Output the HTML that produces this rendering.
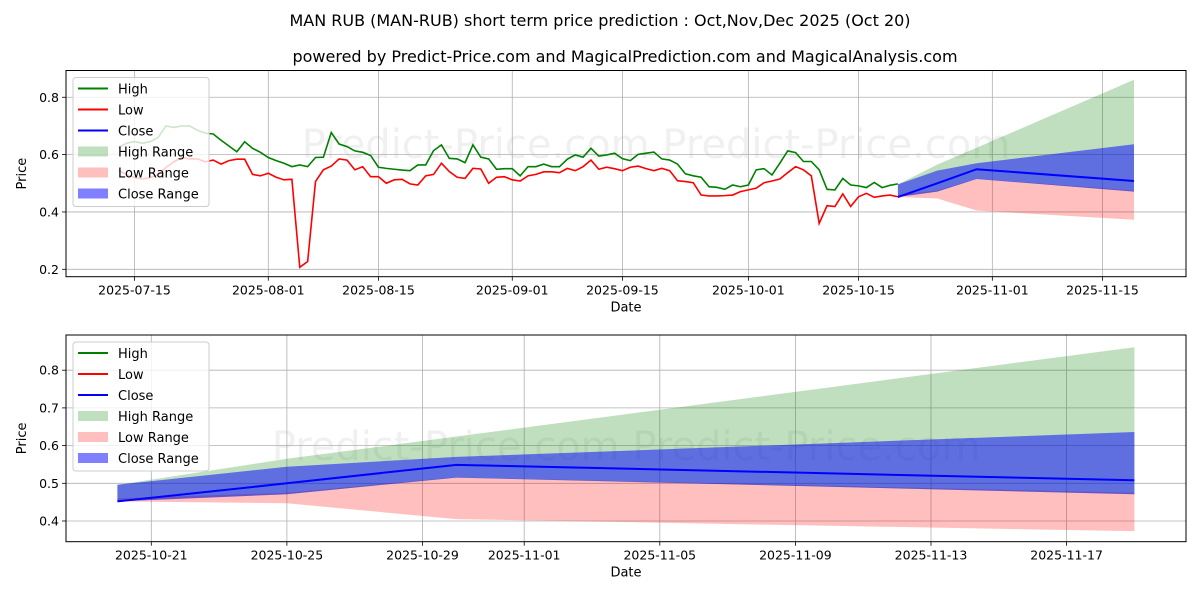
<!DOCTYPE html>
<html><head><meta charset="utf-8">
<style>
body{margin:0;background:#fff;}
svg{display:block;font-family:"DejaVu Sans","Liberation Sans",sans-serif;}
</style></head>
<body>
<svg id="chart" width="1200" height="600" viewBox="0 0 1200 600">
<rect width="1200" height="600" fill="#fff"/>
<text x="600" y="26" text-anchor="middle" font-size="16" fill="#000">MAN RUB (MAN-RUB) short term price prediction : Oct,Nov,Dec 2025 (Oct 20)</text>
<text x="625" y="62" text-anchor="middle" font-size="16" fill="#000">powered by Predict-Price.com and MagicalPrediction.com and MagicalAnalysis.com</text>
<g id="top"></g>
<g id="bot"></g>
</svg>
<script>
// ---- data ----
// history: days since 2025-07-15, starting at day -2 (2025-07-13)
const histStartDay = -2;
const highValues = [.625,.64,.645,.64,.645,.66,.70,.695,.70,.70,.685,.675,
.672,.65,.630,.610,.645,.622,.608,.59,.579,.570,.558,.564,.558,.590,.591,.677,.637,.628,.613,.608,.597,.556,.552,.549,.546,.544,.564,.564,.614,.634,.587,.585,.572,.634,.591,.585,.549,.551,.551,
.526,.558,.558,.567,.558,.558,.584,.599,.591,.622,.595,.599,.605,.586,.579,.601,.605,.609,.585,.581,.567,.533,.526,.521,.488,.486,.479,.494,.488,.494,.547,.551,.529,.570,.613,.607,.576,.576,.547,.479,.477,.517,.494,.491,.485,.503,.485,.493,.498];
const lowValues = [.545,.53,.52,.515,.52,.53,.555,.575,.59,.585,.585,.575,
.581,.567,.579,.584,.584,.531,.526,.535,.521,.512,.514,.207,.227,.506,.547,.560,.585,.581,.547,.558,.523,.523,.500,.512,.514,.498,.494,.526,.531,.570,.541,.521,.517,.552,.550,.500,.521,.523,.512,
.508,.526,.531,.540,.540,.537,.552,.544,.558,.581,.549,.556,.551,.544,.556,.560,.551,.544,.552,.544,.509,.506,.502,.459,.456,.456,.457,.459,.471,.477,.483,.502,.508,.515,.537,.558,.547,.526,.360,.422,.419,.463,.419,.453,.465,.451,.456,.459,.453];
// prediction: days since 2025-10-20
const predDays = [0,5,10,30];
const closePred = [.452,.50,.549,.508];
const closeUpper = [.496,.544,.570,.636];
const closeLower = [.452,.471,.515,.471];
const highUpper = [.496,.565,.624,.861];
const lowUpper = [.46,.475,.516,.475];
const lowLower = [.452,.447,.405,.373];
const topTickLabels = ["2025-07-15","2025-08-01","2025-08-15","2025-09-01","2025-09-15","2025-10-01","2025-10-15","2025-11-01","2025-11-15"];
const topTickDays = [0,17,31,48,62,78,92,109,123];
const botTickLabels = ["2025-10-21","2025-10-25","2025-10-29","2025-11-01","2025-11-05","2025-11-09","2025-11-13","2025-11-17"];
const botTickDays = [0,4,8,11,15,19,23,27];
const topYTicks = [0.2,0.4,0.6,0.8];
const botYTicks = [0.4,0.5,0.6,0.7,0.8];

const NS="http://www.w3.org/2000/svg";
function mk(parent,tag,attrs,text){const e=document.createElementNS(NS,tag);for(const k in attrs)e.setAttribute(k,attrs[k]);if(text!==undefined)e.textContent=text;parent.appendChild(e);return e;}

function panel(g,cfg){
  const {L,R,T,B,xs,ys,xTicksD,xTickL,yTicks,yFmt,predOff,showHist}=cfg;
  const wm=mk(g,'text',{x:(L+R)/2+cfg.wmx,y:cfg.wmy,'text-anchor':'middle','font-size':40,fill:'#000','fill-opacity':0.06});
  wm.textContent=cfg.wmText;
  
  
  xTicksD.forEach((d,i)=>{
    const x=xs(d);
    const gl=mk(g,'line',{x1:x,x2:x,y1:T,y2:B,stroke:'#b0b0b0','stroke-width':0.8});
    
    
    mk(g,'line',{x1:x,x2:x,y1:B,y2:B+4,stroke:'#000','stroke-width':0.8});
    const t=mk(g,'text',{x:x,y:B+18,'text-anchor':'middle','font-size':12.5,fill:'#000'},xTickL[i]);
    
    
  });
  yTicks.forEach(v=>{
    const y=ys(v);
    const gl=mk(g,'line',{x1:L,x2:R,y1:y,y2:y,stroke:'#b0b0b0','stroke-width':0.8});
    
    
    mk(g,'line',{x1:L-4,x2:L,y1:y,y2:y,stroke:'#000','stroke-width':0.8});
    const t=mk(g,'text',{x:L-7,y:y+4.5,'text-anchor':'end','font-size':12.5,fill:'#000'},yFmt(v));
    
    
  });
  function band(up,lo,color,op,name){
    let d='';
    predDays.forEach((pd,i)=>{d+=(i?'L':'M')+xs(pd+predOff)+','+ys(up[i]);});
    for(let i=predDays.length-1;i>=0;i--)d+='L'+xs(predDays[i]+predOff)+','+ys(lo[i]);
    const p=mk(g,'path',{d:d+'Z',fill:color,'fill-opacity':op});
    
    
  }
  band(highUpper,closeLower,'#008000',0.25,'high-range-band');
  band(lowUpper,lowLower,'#ff0000',0.25,'low-range-band');
  band(closeUpper,closeLower,'#0000ff',0.5,'close-range-band');
  if(showHist){
    const hp=highValues.map((v,i)=>xs(histStartDay+i)+','+ys(v)).join(' ');
    const h=mk(g,'polyline',{points:hp,fill:'none',stroke:'#008000','stroke-width':1.6});
    
    
    const lp=lowValues.map((v,i)=>xs(histStartDay+i)+','+ys(v)).join(' ');
    const l=mk(g,'polyline',{points:lp,fill:'none',stroke:'#ff0000','stroke-width':1.6});
    
    
  }
  const cp=predDays.map((d,i)=>xs(d+predOff)+','+ys(closePred[i])).join(' ');
  const c=mk(g,'polyline',{points:cp,fill:'none',stroke:'#0000ff','stroke-width':2});
  
  
  const fr=mk(g,'rect',{x:L,y:T,width:R-L,height:B-T,fill:'none',stroke:'#000','stroke-width':1});
  
  
  const xl=mk(g,'text',{x:(L+R)/2,y:B+35,'text-anchor':'middle','font-size':13,fill:'#000'},'Date');
  
  
  const yl=mk(g,'text',{x:0,y:0,'text-anchor':'middle','font-size':13,fill:'#000',transform:'translate(26,'+((T+B)/2)+') rotate(-90)'},'Price');
  
  
  const lg=mk(g,'g',{});
  
  
  const lx=73,ly=T+7;
  mk(lg,'rect',{x:lx,y:ly,width:136,height:129,rx:3,fill:'#fff','fill-opacity':0.8,stroke:'#ccc'});
  const items=[['High','line','#008000',1],['Low','line','#ff0000',1],['Close','line','#0000ff',1],['High Range','box','#008000',0.25],['Low Range','box','#ff0000',0.25],['Close Range','box','#0000ff',0.5]];
  items.forEach((it,i)=>{
    const y=ly+11+i*21;
    const e=mk(lg,'g',{});
    
    
    if(it[1]==='line')mk(e,'line',{x1:lx+5,x2:lx+35,y1:y,y2:y,stroke:it[2],'stroke-width':2});
    else mk(e,'rect',{x:lx+5,y:y-5,width:30,height:10,fill:it[2],'fill-opacity':it[3]});
    mk(e,'text',{x:lx+45,y:y+5,'font-size':13,fill:'#000'},it[0]);
  });
}
// top panel: days since 2025-07-15
panel(document.getElementById('top'),{L:66,R:1186,T:70.5,B:276.7,
  xs:d=>134.5+d*7.87, ys:v=>269.3-(v-0.2)*286.7,
  xTicksD:topTickDays,xTickL:topTickLabels,yTicks:topYTicks,yFmt:v=>v.toFixed(1),
  predOff:97,showHist:true,wmText:'Predict-Price.com      Predict-Price.com',wmx:30,wmy:158});
// bottom panel: days since 2025-10-21
panel(document.getElementById('bot'),{L:66,R:1186,T:335,B:541.7,
  xs:d=>151.3+d*33.9, ys:v=>521-(v-0.4)*377,
  xTicksD:botTickDays,xTickL:botTickLabels,yTicks:botYTicks,yFmt:v=>v.toFixed(1),
  predOff:-1,showHist:false,wmText:'Predict-Price.com    Predict-Price.com',wmx:0,wmy:460});
</script>
</body></html>
